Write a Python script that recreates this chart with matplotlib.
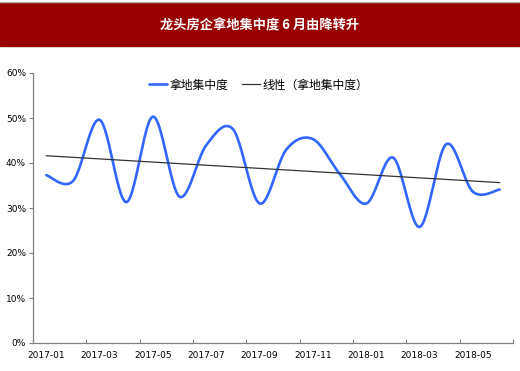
import matplotlib
matplotlib.use("Agg")
import matplotlib.pyplot as plt
import matplotlib.patches as mpatches
from matplotlib.lines import Line2D
import numpy as np

plt.rcParams['font.family'] = ['Noto Sans CJK SC', 'DejaVu Sans']

months = ["2017-01", "2017-02", "2017-03", "2017-04", "2017-05", "2017-06",
          "2017-07", "2017-08", "2017-09", "2017-10", "2017-11", "2017-12",
          "2018-01", "2018-02", "2018-03", "2018-04", "2018-05", "2018-06"]
share = [37.3, 36.0, 49.6, 31.3, 50.3, 32.5, 44.0, 47.5, 31.0,
         43.0, 45.3, 37.6, 31.0, 41.2, 25.8, 44.2, 33.6, 34.1]
yticks = [0, 10, 20, 30, 40, 50, 60]

title = "龙头房企拿地集中度 6 月由降转升"
name = "拿地集中度"
trend_name = "线性（拿地集中度）"


def smooth(x, y, n=25):
    # catmull-rom, like the excel "smoothed line"
    x = np.asarray(x, float)
    y = np.asarray(y, float)
    xs, ys = [], []
    for i in range(len(x) - 1):
        i0 = max(i - 1, 0)
        i3 = min(i + 2, len(x) - 1)
        t = np.linspace(0, 1, n, endpoint=False)
        for arr, out in ((x, xs), (y, ys)):
            p0, p1, p2, p3 = arr[i0], arr[i], arr[i + 1], arr[i3]
            out.extend(0.5 * ((2 * p1) + (-p0 + p2) * t
                              + (2 * p0 - 5 * p1 + 4 * p2 - p3) * t ** 2
                              + (-p0 + 3 * p1 - 3 * p2 + p3) * t ** 3))
    xs.append(x[-1])
    ys.append(y[-1])
    return np.array(xs), np.array(ys)


fig = plt.figure(figsize=(5.2, 3.71), dpi=100)

# title band
fig.patches.append(mpatches.Rectangle((0, 1 - 46 / 371), 1, 43 / 371,
                                      transform=fig.transFigure, color="#990000", zorder=0))
fig.lines.append(Line2D([0, 1], [1 - 1.5 / 371] * 2, transform=fig.transFigure,
                        color="#b0b0b0", lw=1))
fig.text(0.5, 1 - 25 / 371, title, color="white", fontsize=9.5, fontweight="bold",
         ha="center", va="center")

ax = fig.add_axes([33 / 520, 1 - 343 / 371, 480 / 520, 270 / 371])

x = np.arange(len(months))
xs, ys = smooth(x, share)
ax.plot(xs, ys, color="#3366ff", lw=1.9, label=name, solid_capstyle="round")

k, b = np.polyfit(x, share, 1)
ax.plot(x, k * x + b, color="#333333", lw=0.9, label=trend_name)

ax.set_xlim(-0.5, len(months) - 0.5)
ax.set_ylim(0, 60)

ax.set_yticks(yticks)
ax.set_yticklabels([f"{v}%" for v in yticks], family=['Liberation Sans Narrow', 'DejaVu Sans'],
                   fontsize=6.5)
ax.set_xticks(np.arange(-0.5, len(months), 2))
ax.set_xticklabels([])
ax.set_xticks(x[::2], minor=True)
ax.set_xticklabels(months[::2], minor=True, family=['Liberation Sans Narrow', 'DejaVu Sans'],
                   fontsize=6.5)
ax.tick_params(axis="x", which="major", direction="in", length=3, color="#808080")
ax.tick_params(axis="x", which="minor", length=0, pad=6)
ax.tick_params(axis="y", direction="out", length=3, color="#808080", pad=2)

for s in ["top", "right"]:
    ax.spines[s].set_visible(False)
for s in ["left", "bottom"]:
    ax.spines[s].set_color("#808080")
    ax.spines[s].set_linewidth(0.9)

fig.legend(loc="center", bbox_to_anchor=(0.497, 1 - 85 / 371), ncol=2, frameon=False,
           fontsize=8.5, handlelength=1.5, handletextpad=0.2, columnspacing=1.2)

fig.savefig("out.png", dpi=100)
